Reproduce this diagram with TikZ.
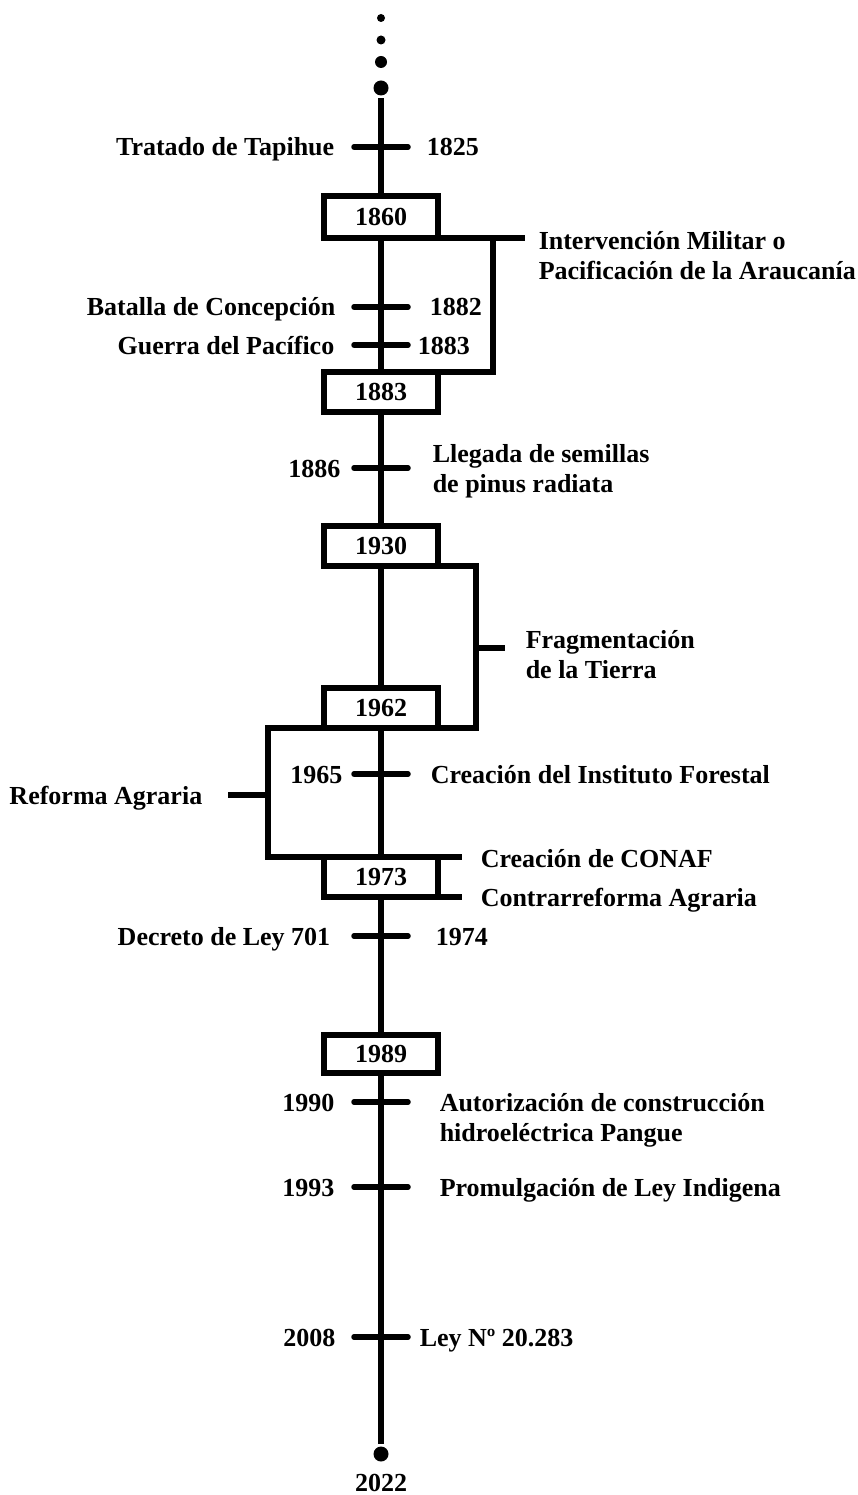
\documentclass[tikz,border=0pt]{standalone}
\usepackage{fontspec}
\setmainfont{Liberation Serif}
\newcommand{\evfont}{\fontsize{26}{30}\selectfont\bfseries}
\begin{document}
\begin{tikzpicture}[x=1pt, y=-1pt, line width=5.5pt,
    yearbox/.style={draw, fill=white, line width=5.5pt, minimum width=114pt, minimum height=40pt, inner sep=0pt, outer sep=0pt, font=\evfont},
    txt/.style={inner sep=0pt, font=\evfont, text height=18pt, text depth=0pt},
    txtml/.style={inner sep=0pt, font=\evfont, align=left, anchor=west},
    dot/.style={circle, fill, inner sep=0pt},
    tickline/.style={line cap=round}
]
    \useasboundingbox (0,0) rectangle (858,1495);

    % puntos iniciales
    \node[dot, minimum size=8pt] (d1) at (381,18) {};
    \node[dot, minimum size=9pt] (d2) at (381,40) {};
    \node[dot, minimum size=12pt] (d3) at (381,62) {};
    \node[dot, minimum size=15pt] (inicio) at (381,88) {};
    \node[dot, minimum size=15pt] (fin) at (381,1454) {};
    \node[txt, anchor=center] (l2022) at (381,1482) {2022};

    % linea de tiempo
    \draw (inicio) -- (fin);

    % marcas
    \coordinate (t1825) at (381,147);
    \coordinate (t1882) at (381,307);
    \coordinate (t1883) at (381,345);
    \coordinate (t1886) at (381,468);
    \coordinate (t1965) at (381,774);
    \coordinate (t1974) at (381,936);
    \coordinate (t1990) at (381,1102);
    \coordinate (t1993) at (381,1187);
    \coordinate (t2008) at (381,1337);
    \foreach \t in {t1825,t1882,t1883,t1886,t1965,t1974,t1990,t1993,t2008}
        \draw[tickline] ([xshift=-27pt]\t) -- ([xshift=27pt]\t);

    % periodos
    \node[yearbox, minimum height=42pt] (b1860) at (381,217) {1860};
    \node[yearbox] (b1883) at (381,392) {1883};
    \node[yearbox] (b1930) at (381,546) {1930};
    \node[yearbox] (b1962) at (381,708) {1962};
    \node[yearbox] (b1973) at (381,877) {1973};
    \node[yearbox, minimum height=38pt] (b1989) at (381,1054) {1989};

    % llaves
    \coordinate (k1e) at (525,238);
    \coordinate (k1v) at (493,238);
    \draw (b1860.south west) -- (b1860.south west -| k1e);
    \draw (b1860.south west -| k1v) |- (b1883.north west);
    \coordinate (k2v) at (476,565);
    \coordinate (k2t) at (505,648);
    \draw (b1930.south west) -| (k2v |- b1962.south east) -- (b1962.south east);
    \draw (k2v |- k2t) -- (k2t);
    \coordinate (k3v) at (268,728);
    \coordinate (k4e) at (462,858);
    \coordinate (k3t) at (228,795);
    \draw (b1962.south east) -| (k3v |- b1973.north west) -- (b1973.north west -| k4e);
    \draw (k3v |- k3t) -- (k3t);
    \draw (b1973.south west) -- (b1973.south west -| k4e);

    % textos
    \node[txt, anchor=east] (e1825) at (337,147) {Tratado de Tapihue};
    \node[txt, anchor=west] (y1825) at (424,147) {1825};
    \node[txtml] (e1860) at (536,256) {Intervención Militar o\\Pacificación de la Araucanía};
    \node[txt, anchor=east] (e1882) at (338,307) {Batalla de Concepción};
    \node[txt, anchor=west] (y1882) at (427,307) {1882};
    \node[txt, anchor=east] (e1883) at (337,345) {Guerra del Pacífico};
    \node[txt, anchor=west] (y1883) at (415,345) {1883};
    \node[txt, anchor=east] (y1886) at (343,468) {1886};
    \node[txtml] (e1886) at (430,471) {Llegada de semillas\\de pinus radiata};
    \node[txtml] (e1930) at (523,655) {Fragmentación\\de la Tierra};
    \node[txt, anchor=east] (e1962) at (205,795) {Reforma Agraria};
    \node[txt, anchor=east] (y1965) at (345,774) {1965};
    \node[txt, anchor=west] (e1965) at (428,774) {Creación del Instituto Forestal};
    \node[txt, anchor=west] (e1973a) at (478,858) {Creación de CONAF};
    \node[txt, anchor=west] (e1973b) at (478,897) {Contrarreforma Agraria};
    \node[txt, anchor=east] (e1974) at (333,936) {Decreto de Ley 701};
    \node[txt, anchor=west] (y1974) at (433,936) {1974};
    \node[txt, anchor=east] (y1990) at (337,1102) {1990};
    \node[txtml] (e1990) at (437,1120) {Autorización de construcción\\hidroeléctrica Pangue};
    \node[txt, anchor=east] (y1993) at (337,1187) {1993};
    \node[txt, anchor=west] (e1993) at (437,1187) {Promulgación de Ley Indigena};
    \node[txt, anchor=east] (y2008) at (338,1337) {2008};
    \node[txt, anchor=west] (e2008) at (417,1337) {Ley Nº 20.283};
\end{tikzpicture}
\end{document}
